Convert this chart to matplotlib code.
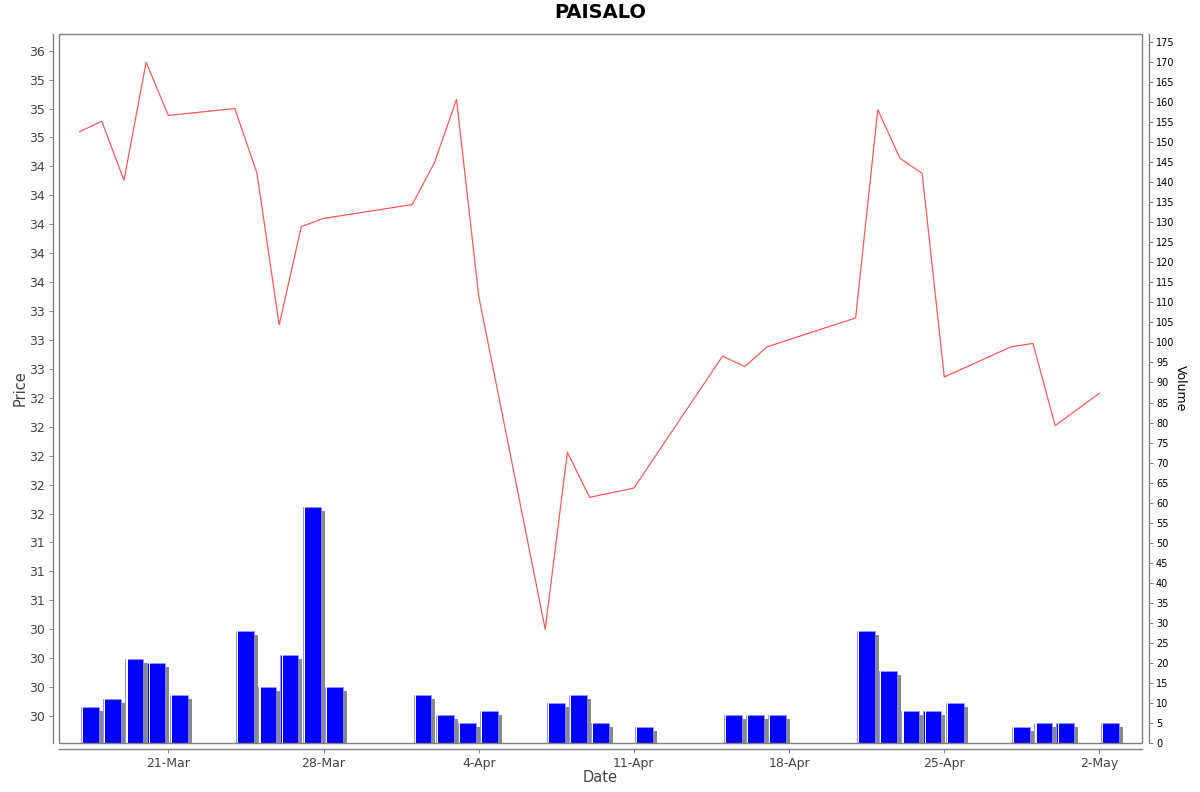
import matplotlib
matplotlib.use("Agg")
import matplotlib.pyplot as plt
import matplotlib.dates as mdates
import matplotlib.transforms as mtransforms
from matplotlib.ticker import FixedLocator, FuncFormatter
from matplotlib.patches import Rectangle
import numpy as np
import pandas as pd

# ---- data ----
dates = ["2025-03-17", "2025-03-18", "2025-03-19", "2025-03-20", "2025-03-21",
         "2025-03-24", "2025-03-25", "2025-03-26", "2025-03-27", "2025-03-28",
         "2025-04-01", "2025-04-02", "2025-04-03", "2025-04-04",
         "2025-04-07", "2025-04-08", "2025-04-09", "2025-04-11",
         "2025-04-15", "2025-04-16", "2025-04-17",
         "2025-04-21", "2025-04-22", "2025-04-23", "2025-04-24", "2025-04-25",
         "2025-04-28", "2025-04-29", "2025-04-30", "2025-05-02"]
close = [34.80, 34.89, 34.38, 35.40, 34.94,
         35.00, 34.44, 33.13, 33.98, 34.05,
         34.17, 34.53, 35.08, 33.38,
         30.50, 32.03, 31.64, 31.72,
         32.86, 32.77, 32.94,
         33.19, 34.99, 34.57, 34.44, 32.68,
         32.94, 32.97, 32.26, 32.54]
volume = [9, 11, 21, 20, 12,
          28, 14, 22, 59, 14,
          12, 7, 5, 8,
          10, 12, 5, 4,
          7, 7, 7,
          28, 18, 8, 8, 10,
          4, 5, 5, 5]
title = "PAISALO"
price_ticks = np.arange(29.75, 35.51, 0.25)
volume_ticks = np.arange(0, 176, 5)
date_ticks = pd.date_range("2025-03-21", "2025-05-02", freq="7D")

# ---- figure ----
fig = plt.figure(figsize=(12, 7.92), dpi=100)
L, R, T, B = 59, 1142, 34, 743
ax = fig.add_axes([L / 1200, (792 - B) / 792, (R - L) / 1200, (B - T) / 792])
ax2 = ax.twinx()

x = mdates.date2num(pd.to_datetime(dates))
gray = "#808080"

# volume bars (on ax, right axis)
bar_off = 0.06
bar_w = 0.81
shadow = ax.transData + mtransforms.ScaledTranslation(4 / 100, -4 / 100, fig.dpi_scale_trans)
ax.bar(x + bar_off, volume, width=bar_w, align="edge", color="#888888",
       transform=shadow, zorder=1)
ax.bar(x + bar_off, volume, width=bar_w, align="edge", color="#0000ff",
       edgecolor="#9a9aff", linewidth=0.5, zorder=2)
ax.bar(x + bar_off + 0.05, volume, width=0.05, align="edge", color="white",
       linewidth=0, zorder=3)

ax.set_ylim(0, 177)
ax.yaxis.tick_right()
ax.yaxis.set_label_position("right")
ax.yaxis.set_major_locator(FixedLocator(volume_ticks))
ax.set_ylabel("Volume", rotation=-90, fontsize=9, color="black", labelpad=9)
ax.tick_params(axis="y", labelsize=7, colors="black", length=3, width=0.7,
               pad=2, color=gray)

# x axis
xmin = mdates.date2num(pd.Timestamp("2025-03-21")) - 4.93
xmax = mdates.date2num(pd.Timestamp("2025-05-02")) + 1.917
ax.set_xlim(xmin, xmax)
ax.xaxis.set_major_locator(FixedLocator(mdates.date2num(date_ticks)))
ax.xaxis.set_major_formatter(FuncFormatter(
    lambda v, p: f"{mdates.num2date(v).day}-{mdates.num2date(v).strftime('%b')}"))
ax.tick_params(axis="x", labelsize=9, labelcolor="#444444", length=3, width=0.7,
               pad=3, color=gray)
ax.set_xlabel("Date", fontsize=10.5, color="#444444", labelpad=0)

# price line (on ax2, left axis)
ax2.plot(x, close, color="#ff5a5a", linewidth=0.9, zorder=5)
ax2.set_ylim(29.517, 35.644)
ax2.yaxis.tick_left()
ax2.yaxis.set_label_position("left")
ax2.yaxis.set_major_locator(FixedLocator(price_ticks))
ax2.yaxis.set_major_formatter(FuncFormatter(lambda v, p: f"{round(round(v * 4) / 4)}"))
ax2.tick_params(axis="y", labelsize=9, labelcolor="#444444", length=3, width=0.7,
                pad=3, color=gray)
ax2.set_ylabel("Price", fontsize=10.5, color="#444444", labelpad=1)

# spines
for s in ax.spines.values():
    s.set_visible(False)
for s in ax2.spines.values():
    s.set_visible(False)
ax.spines["bottom"].set_visible(True)
ax.spines["bottom"].set_position(("outward", 4))
ax.spines["right"].set_visible(True)
ax.spines["right"].set_position(("outward", 5))
ax2.spines["left"].set_visible(True)
ax2.spines["left"].set_position(("outward", 4))
for s in (ax.spines["bottom"], ax.spines["right"], ax2.spines["left"]):
    s.set_color(gray)
    s.set_linewidth(1.0)

ax.add_patch(Rectangle((0, 0), 1, 1, transform=ax.transAxes, fill=False,
                       edgecolor=gray, linewidth=1.0, clip_on=False, zorder=10))

fig.text(0.5, 1 - 13 / 792, title, ha="center", va="center", fontsize=14,
         fontweight="bold", color="black")

fig.savefig("out.png", dpi=100)
